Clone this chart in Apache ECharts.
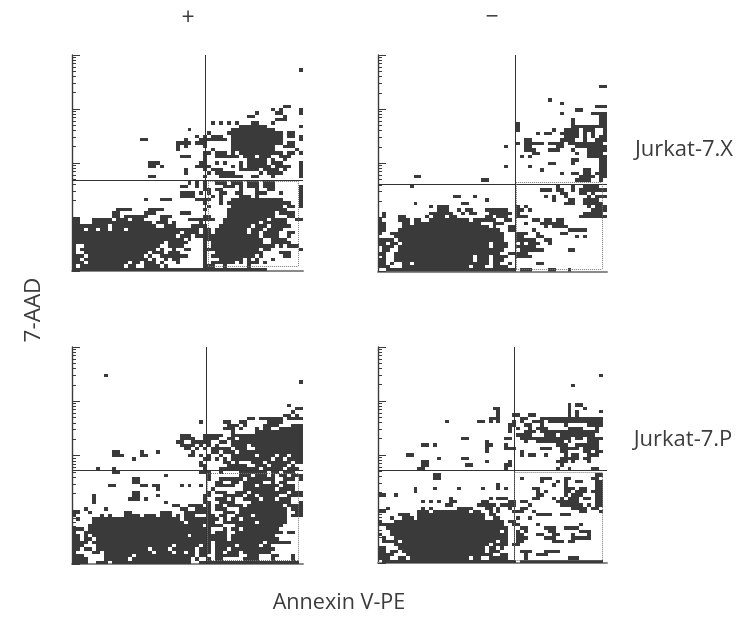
<!DOCTYPE html>
<html><head><meta charset="utf-8">
<style>html,body{margin:0;padding:0;background:#fff}#c{width:749px;height:628px}</style>
<script src="https://cdn.jsdelivr.net/npm/echarts@6/dist/echarts.min.js"></script></head>
<body><div id="c"></div>
<script>
// Each row: [binRow, start, end, start, end, ...] dark cells on the binned dot plot
const jurkatXPlus = [
[4,57,57],[15,53,54],[16,50,50,52,52,57,57],[17,46,46,51,52,57,57],[18,44,45,53,53],[19,51,53],
[20,35,35,37,37,39,39,41,41,45,46,50,50],[21,42,48,57,57],[22,29,29,40,50],[23,34,34,39,52,54,55],
[24,31,31,33,33,35,37,40,52,54,55,57,57],[25,17,18,28,28,32,38,40,52,57,57],[26,26,29,31,33,40,52,54,55],
[27,26,26,28,28,33,33,40,50,53,55],[28,26,26,35,35,40,50,56,56],[29,33,34,36,38,40,40,42,52,54,55,57,57],
[30,27,29,33,33,36,41,43,45,47,49,52,54],[31,33,33,44,48,50,50,53,53],[32,19,21,32,33,36,36,38,38,42,42,44,48,50,52,57,57],
[33,19,20,22,22,31,34,40,40,42,42,44,49,51,54,57,57],[34,28,28,33,33,35,37,42,46,48,51,53,53,57,57],
[35,28,28,34,34,36,40,47,47,49,52,57,57],[36,19,20,33,33,37,42,45,46,50,50,57,57],
[38,29,29,31,31,33,33,36,38,40,42,44,46,48,50],[39,27,28,31,31,33,33,38,40,42,42,44,46,48,50,57,57],
[40,33,34,36,37,42,42,46,46,49,50,57,57],[41,27,30,32,32,34,34,37,38,41,42,46,48,52,52,57,57],
[42,27,30,35,35,37,37,42,44,46,46,57,57],[43,18,18,22,24,31,34,37,37,40,46,47,52,57,57],
[44,33,33,37,37,39,48,49,54,57,57],[45,34,34,40,50,51,52,54,55,57,57],[46,11,14,19,22,33,33,39,53],
[47,10,11,18,20,27,29,39,50,52,55],[48,10,11,13,18,22,24,33,34,39,50,54,55],[49,0,1,5,9,11,13,15,17,22,23,29,35,38,48,50,53,56,57],
[50,0,1,5,10,11,19,21,23,25,25,32,32,38,46,48,48,49,53],[51,0,7,8,8,10,20,23,25,30,33,37,44,46,48,50,54],
[52,0,2,4,5,7,8,10,12,14,26,27,31,33,34,36,43,45,47,49,52],[53,0,26,28,31,33,34,36,43,45,46,48,51,54,55],
[54,0,25,27,29,31,34,35,46,48,51,54,54],[55,0,27,29,29,33,34,35,47,50,53],[56,0,22,24,28,33,33,35,47,50,54],
[57,0,0,3,21,24,27,33,33,35,50,52,52,54,56],[58,0,0,2,20,22,22,25,25,28,29,33,46,48,49,57,57],
[59,0,0,3,18,20,22,24,26,33,33,36,47,52,54],[60,0,2,4,17,19,19,22,28,33,33,35,45,47,47,53,54],
[61,0,1,3,18,20,20,23,23,25,26,33,33,37,42,44,44,46,46,50,50],[62,0,2,4,13,15,16,18,20,22,22,26,26,33,33,35,40,42,42,44,46,48,48],
[63,0,0,2,3,4,12,14,15,18,21,23,23,33,35,38,38,44,44],[64,0,48]
];
const jurkatXMinus = [
[9,56,57],[13,43,43],[14,46,46],[15,55,57],[16,50,51],[17,46,46,54,55,56,57],[18,56,57],[19,49,49,56,57],[20,35,35,49,49,56,57],
[21,35,35,49,57],[22,35,35,44,44,47,50,52,54,57,57],[23,40,40,42,43,46,50,52,52,54,54,57,57],[24,47,50,52,52,54,54,56,57],
[25,37,38,46,49,52,52,55,57],[26,35,35,37,41,43,46,48,56],[27,32,32,37,38,45,46,50,57],[28,37,39,43,45,49,49,53,57],
[29,39,40,50,50,53,56],[30,36,36,38,38,53,57],[31,49,50,56,57],[32,43,44,49,49,56,57],[33,32,32,38,38,56,57],
[34,41,41,52,53,56,57],[35,46,46,49,50,52,53,55,57],[36,9,10,51,54,56,57],[37,26,27,50,53,56,56],
[39,8,8,45,45,49,49,52,55],[40,41,43,45,46,49,49,51,57],[41,46,47,51,52,54,54],[42,19,20,24,24,42,42,44,44,47,47,53,53,55,57],
[43,27,27,44,44,48,49,52,55],[44,9,9,21,22,47,49,52,56],[45,13,13,15,17,35,35,37,37,53,53,55,57],
[46,15,17,20,20,22,23,27,32,35,36,38,38,54,57],[47,1,1,13,18,21,21,23,24,28,33,35,35,52,56],
[48,1,1,5,6,12,12,14,16,18,19,27,28,30,32,35,37,51,57],[49,0,0,5,7,9,10,13,22,24,29,32,33,39,40,42,43,45,46],
[50,0,1,6,7,9,25,29,31,37,37,41,46],[51,0,1,6,27,29,29,33,34,42,42,44,47],[52,0,1,5,30,33,34,39,39,48,52],
[53,0,0,3,31,35,37,40,40,46,47],[54,4,31,35,36,40,41,50,50,52,52],[55,0,3,5,31,35,39,42,43],
[56,0,1,3,4,6,27,29,32,36,36,38,40,43,43],[57,1,3,5,27,29,32,35,39],[58,1,2,5,31,36,41,48,49],[59,0,1,4,30,33,37],
[60,1,1,4,23,25,27,29,32,35,38],[61,0,1,4,23,25,27,29,31],[62,0,1,3,3,6,7,9,27,29,30,33,33,40,41],
[63,0,2,6,11,12,22,24,26,29,32],[64,2,34,36,38,43,44,48,48]
];
const jurkatPPlus = [
[8,8,8],[10,57,57],[17,54,54],[18,56,57],[19,55,55],[20,53,54,56,56],[21,44,45,47,48,49,52,54,57],[22,32,32,38,39,42,43,49,52],
[23,39,41,43,43,48,51,55,57],[24,38,40,42,42,46,46,48,49,52,57],[25,40,40,46,57],[26,27,29,33,37,40,57],[27,27,30,33,36,39,40,42,54,55,57],
[28,26,27,30,34,37,38,40,57],[29,27,30,32,32,34,34,36,36,40,43,45,57],[30,28,29,31,31,33,33,35,39,41,43,46,57],
[31,10,11,17,17,21,21,30,30,35,36,38,40,42,49,50,57],[32,10,12,17,18,29,30,32,32,34,34,37,37,40,45,47,50,52,53,55,57],
[33,15,15,33,34,36,36,38,38,40,49,51,52,54,57],[34,32,32,38,39,41,41,45,47,49,54,56,57],[35,32,33,39,43,46,48,50,53,55,55],
[36,6,6,10,10,33,33,37,46,48,52,54,56],[37,10,11,32,34,37,37,42,48,50,51,53,55],
[38,23,23,34,34,42,44,46,48,50,50,52,53,55,57],[39,15,16,34,34,37,42,44,50,53,55,57,57],[40,15,16,36,37,40,41,43,47,50,50,52,53],
[41,9,10,17,18,20,21,27,27,29,29,32,32,36,40,43,45,47,51,53,55],[42,21,21,35,35,43,50,52,55],[43,15,16,34,34,36,38,41,43,45,50,51,53,55,57],
[44,5,5,15,16,21,21,33,34,38,42,44,45,47,51,54,57],[45,5,5,14,16,18,18,33,33,36,38,40,40,43,46,48,50,52,54],
[46,5,5,23,23,33,34,37,40,45,54,57,57],[47,25,26,29,32,34,34,36,37,39,42,44,52,54,57],[48,3,3,8,8,27,28,31,34,36,38,42,53,55,57],
[49,0,1,4,4,13,14,22,24,28,34,38,40,42,53,56,57],[50,0,0,7,7,9,9,13,16,18,20,22,24,26,26,28,30,34,35,37,38,41,44,46,53,55,57],
[51,1,1,5,26,28,36,38,38,40,41,43,45,46,53],[52,5,27,29,35,38,45,47,53],[53,4,28,29,32,34,37,41,52],
[54,0,2,4,34,38,38,40,41,43,51],[55,0,0,3,34,36,38,41,52,54,55],[56,0,1,3,3,5,28,30,38,40,50],[57,0,1,3,4,6,34,35,38,40,51],
[58,0,3,5,34,36,47,49,54],[59,0,2,6,24,26,31,33,34,36,40,42,46,48,49],[60,0,1,3,4,6,18,20,23,25,30,32,34,36,38,40,50],
[61,0,0,5,6,8,19,21,24,26,27,29,30,32,34,36,37,39,41,43,49],[62,0,2,8,14,16,30,32,33,36,41,44,46,50,51,55,55],
[63,0,3,8,13,15,29,31,31,34,34,36,37,43,45,46,46,50,50,55,55],[64,0,3,6,8,10,29,32,56]
];
const jurkatPMinus = [
[8,56,56],[11,49,49],[17,48,48,50,51],[18,29,30,48,48,52,52],[19,30,30,48,48,50,50,56,56],[20,30,30,34,35,38,39,48,48,50,50],
[21,28,30,36,37,41,42,43,56],[22,17,17,25,26,28,28,30,30,34,34,36,36,39,41,43,56],[23,33,34,37,38,41,41,47,47,53,56],
[24,33,33,35,35,38,38,40,42,48,51,55,55],[25,33,33,37,39,41,55],[26,35,38,42,44,46,54],[27,21,22,32,33,36,48,50,51,53,56],
[28,27,27,37,37,40,46,48,48,53,55],[29,11,12,14,14,27,28,32,32,45,47,50,55],[30,27,27,32,34,41,43,46,50,52,55],
[31,27,27,36,36,46,47,52,53,55,56],[32,7,8,36,36,38,39,42,42,47,47,49,50,53,55],[33,15,15,21,22,46,50,52,53],
[34,11,12,27,27,33,33,45,47,49,49,53,53],[35,11,12,22,23,32,33,46,46],[36,10,11,32,32,45,45,48,48,54,55],
[38,14,15,55,56],[39,14,15,36,36,41,43,47,48,54,55],[40,41,41,45,45,47,47,50,51,55,56],[41,30,30,44,44,47,47,55,56],
[42,9,9,14,14,20,20,26,26,30,30,32,32,39,40,47,49,51,52,55,56],[43,9,9,40,40,42,42,47,48,50,52,54,56],[44,0,1,4,4,40,41,47,47,49,51,55,56],
[45,18,18,28,28,30,32,39,40,44,44,46,46,48,50,52,53,55,56],[46,11,11,13,13,15,15,18,19,26,27,33,34,36,37,45,50,55,56],
[47,17,18,25,29,31,34,38,38,46,51,53,53,55,56],[48,2,2,11,11,13,13,20,23,27,28,30,30,33,33,36,37,49,52,54,55],
[49,0,1,10,12,14,22,24,25,28,28,30,30,34,36,39,39,51,52,56,56],[50,5,7,10,26,28,29,40,43,46,48],[51,3,3,6,8,10,26,29,30,35,35,38,38],
[52,0,0,4,31,33,34],[53,0,1,2,31,34,35,40,40,51,51],[54,2,32,36,37,42,44,47,50],[55,3,30,32,32,35,35,37,37,43,44,51,53],
[56,0,0,3,32,35,36,40,41,44,45,49,49,53,53],[57,1,1,4,32,35,37,42,44,49,53],[58,1,4,6,29,31,32,35,36,44,46,48,49],
[59,4,27,29,32,34,35],[60,0,1,5,26,28,29,31,31],[61,0,1,3,4,6,26,28,30,36,38,42,45],[62,0,3,7,28,31,32,37,37,40,42],
[63,0,2,5,6,8,22,24,25,28,32,37,37,48,50],[64,1,34,36,56]
];
const panelRuns = [jurkatXPlus, jurkatXMinus, jurkatPPlus, jurkatPMinus];
// Quadrant gates: [vertical gate (bin column), horizontal gate (log10 decade)]
const gates = [[33.4,1.68],[34.8,1.61],[33.6,1.72],[34.5,1.72]];
// Dotted lower-right boxes: [left, right, bottom, top]
const dottedBoxes = [[34.2,56.7,0.09,1.66],[35,56.7,0.05,1.64],[33.9,56.8,0.06,1.68],[34.6,56.7,0.06,1.68]];
const columnMax = 58, rowCount = 65, decades = 4;
const minorTicks = [], decadeTicks = [0,1,2,3,4];
for (let d=0; d<decades; d++) for (let m=1; m<10; m++) minorTicks.push(d+Math.log10(m));
minorTicks.push(4);
const grids = [{left:72,top:55,width:231,height:216},{left:378,top:55,width:229,height:216.5},
               {left:72,top:347,width:231,height:217},{left:378,top:347,width:229,height:216}];
const sideLabels = [{t:'+',x:188,y:18,s:23},{t:'−',x:492,y:17,s:23},{t:'Jurkat-7.X',x:684,y:150,s:22},{t:'Jurkat-7.P',x:683,y:440,s:22},
                    {t:'Annexin V-PE',x:339,y:603,s:21.6},{t:'7-AAD',x:34,y:310,s:22.5,r:Math.PI/2}];
const ink='#3a3a3a';
const xAxis=[],yAxis=[],series=[];
panelRuns.forEach((runs,i)=>{
  const cells=[];
  runs.forEach(r=>{for(let k=1;k<r.length;k+=2)cells.push([r[k],r[k+1],r[0]]);});
  xAxis.push({gridIndex:i,type:'value',min:0,max:columnMax,show:true,
    axisLine:{onZero:false,lineStyle:{color:'#8a8a8a',width:2}},axisTick:{show:false},axisLabel:{show:false},splitLine:{show:false}});
  const yBase={gridIndex:i,type:'value',min:0,max:decades,position:'left',axisLabel:{show:false},splitLine:{show:false},
    axisLine:{onZero:false,lineStyle:{color:ink,width:1.2}}};
  yAxis.push(Object.assign({},yBase,{axisTick:{show:true,inside:true,length:4,customValues:minorTicks,lineStyle:{color:ink,width:1}}}));
  yAxis.push(Object.assign({},yBase,{axisTick:{show:true,inside:true,length:8,customValues:decadeTicks,lineStyle:{color:ink,width:1}}}));
  const [gx,gy]=gates[i],[l,r,b,t]=dottedBoxes[i];
  const dot={type:'dotted',color:'#777',width:1};
  series.push({type:'custom',xAxisIndex:i,yAxisIndex:i*2,data:cells,animation:false,silent:true,clip:true,
    encode:{x:[0,1],y:2},
    renderItem:(p,api)=>{
      const s=api.value(0),e=api.value(1),row=api.value(2);
      const a=api.coord([s,decades-row*decades/rowCount]);
      const c=api.coord([e+1,decades-(row+1)*decades/rowCount]);
      const x0=Math.round(a[0]),y0=Math.round(a[1]),x1=Math.round(c[0]),y1=Math.round(c[1]);
      return {type:'rect',shape:{x:x0,y:y0,width:x1-x0,height:y1-y0},style:{fill:ink}};
    },
    markLine:{silent:true,symbol:'none',animation:false,label:{show:false},
      lineStyle:{color:'#333',width:1,type:'solid'},
      data:[{xAxis:gx},{yAxis:gy},
        [{coord:[l,b],lineStyle:dot},{coord:[r,b]}],[{coord:[l,t],lineStyle:dot},{coord:[r,t]}],
        [{coord:[l,b],lineStyle:dot},{coord:[l,t]}],[{coord:[r,b],lineStyle:dot},{coord:[r,t]}]]}
  });
});
const chart=echarts.init(document.getElementById('c'),null,{renderer:'canvas'});
chart.setOption({backgroundColor:'#fff',animation:false,grid:grids,xAxis,yAxis,series,
  graphic:sideLabels.map(o=>({type:'text',x:o.x,y:o.y,rotation:o.r||0,
    style:{text:o.t,font:o.s+'px "Open Sans"',fill:'#3c3c3c',align:'center',verticalAlign:'middle'}}))});
</script></body></html>
